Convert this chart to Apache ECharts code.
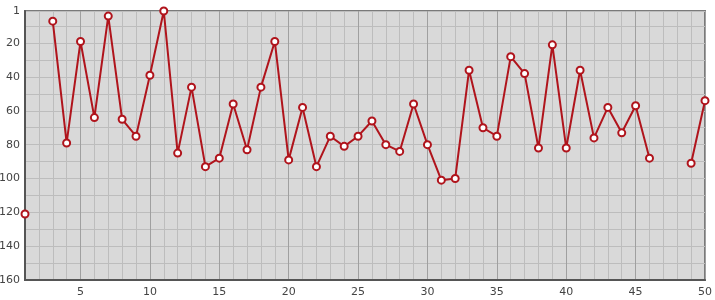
<!DOCTYPE html>
<html>
<head>
<meta charset="utf-8">
<script src="https://cdn.jsdelivr.net/npm/echarts@6/dist/echarts.min.js"></script>
<style>html,body{margin:0;padding:0;background:#fff}#c{width:715px;height:300px}</style>
</head>
<body>
<div id="c"></div>
<script>
const xValues = [];
for (let i = 1; i <= 50; i++) xValues.push(i);
const ranks = [121, null, 7, 79, 19, 64, 4, 65, 75, 39,
  1, 85, 46, 93, 88, 56, 83, 46, 19, 89,
  58, 93, 75, 81, 75, 66, 80, 84, 56, 80,
  101, 100, 36, 70, 75, 28, 38, 82, 21, 82,
  36, 76, 58, 73, 57, 88, null, null, 91, 54];
const yLabelValues = [1, 20, 40, 60, 80, 100, 120, 140, 160];
const yGridValues = [1, 10, 20, 30, 40, 50, 60, 70, 80, 90, 100, 110, 120, 130, 140, 150, 160];
const xLabelValues = [5, 10, 15, 20, 25, 30, 35, 40, 45, 50];

const chart = echarts.init(document.getElementById('c'), null, {renderer: 'canvas'});
const font = 'DejaVu Sans';
chart.setOption({
  animation: false,
  grid: {left: 25, right: 10, top: 11, bottom: 20, containLabel: false, outerBoundsMode: 'none',
    show: true, backgroundColor: '#d9d9d9', borderColor: '#7a7a7a', borderWidth: 2},
  xAxis: {
    type: 'category', data: xValues.map(String), boundaryGap: false,
    axisLine: {show: true, lineStyle: {color: '#555', width: 2}},
    axisTick: {show: false},
    axisLabel: {color: '#444', fontFamily: font, fontSize: 11, margin: 7,
      interval: (idx, val) => xLabelValues.indexOf(Number(val)) >= 0},
    splitLine: {show: true, interval: 0, lineStyle: {width: 1, color: ['#bdbdbd', '#bdbdbd', '#bdbdbd', '#bdbdbd', '#a0a0a0']}}
  },
  yAxis: {
    type: 'value', inverse: true, min: 1, max: 160,
    axisLine: {show: true, lineStyle: {color: '#555', width: 2}},
    axisTick: {show: false, customValues: yGridValues},
    axisLabel: {color: '#444', fontFamily: font, fontSize: 11, margin: 5, customValues: yLabelValues},
    splitLine: {show: true, lineStyle: {color: '#bdbdbd', width: 1}}
  },
  series: [{
    type: 'line', data: ranks, connectNulls: false,
    symbol: 'circle', symbolSize: 7, showAllSymbol: true,
    lineStyle: {color: '#b0141c', width: 2},
    itemStyle: {color: '#ffffff', borderColor: '#b0141c', borderWidth: 2},
    clip: false
  }]
});
</script>
</body>
</html>
